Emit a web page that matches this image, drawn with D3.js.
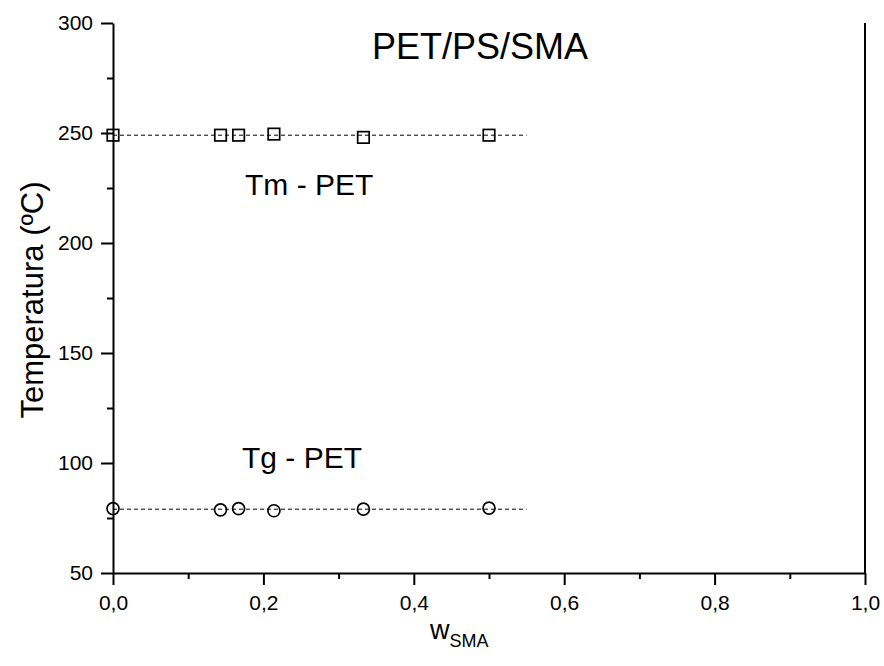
<!DOCTYPE html>
<html>
<head>
<meta charset="utf-8">
<script src="https://cdn.jsdelivr.net/npm/d3@7"></script>
<style>
  html, body { margin: 0; padding: 0; background: #fff; }
  svg { display: block; font-family: "Liberation Sans", Arial, Helvetica, sans-serif; }
</style>
</head>
<body>
<svg id="chart" width="884" height="666"></svg>
<script>
// Weight fraction of SMA in the PET/PS/SMA blends
const wSMA = [0.0, 0.143, 0.167, 0.214, 0.333, 0.5];
// Melting temperature of the PET phase (°C)
const tmPET = [249, 249, 249, 249.5, 248, 249];
// Glass transition temperature of the PET phase (°C)
const tgPET = [79.3, 78.7, 79.3, 78.3, 79, 79.5];
// Reference levels drawn as dashed guides
const guideX = [0, 0.55];
const tmGuide = 249;
const tgGuide = 79;
// Axis ticks
const xTicks = [0, 0.2, 0.4, 0.6, 0.8, 1.0];
const xMinor = [0.1, 0.3, 0.5, 0.7, 0.9];
const yTicks = [50, 100, 150, 200, 250, 300];
const yMinor = [75, 125, 175, 225, 275];

const svg = d3.select("#chart");
const plotL = 113, plotR = 865, plotT = 23, plotB = 573;

const x = d3.scaleLinear().domain([0, 1]).range([plotL, plotR]);
const y = d3.scaleLinear().domain([50, 300]).range([plotB, plotT]);

const fmt = d => d3.format(".1f")(d).replace(".", ",");

// Bottom axis: major and minor ticks pointing outward
svg.append("g").attr("transform", `translate(0,${plotB})`)
  .call(d3.axisBottom(x).tickValues(xTicks).tickFormat(fmt).tickSize(12).tickSizeOuter(0).tickPadding(10));
svg.append("g").attr("transform", `translate(0,${plotB})`)
  .call(d3.axisBottom(x).tickValues(xMinor).tickFormat("").tickSize(6).tickSizeOuter(0))
  .select(".domain").remove();

// Left axis
svg.append("g").attr("transform", `translate(${plotL},0)`)
  .call(d3.axisLeft(y).tickValues(yTicks).tickSize(12).tickSizeOuter(0).tickPadding(8));
svg.append("g").attr("transform", `translate(${plotL},0)`)
  .call(d3.axisLeft(y).tickValues(yMinor).tickFormat("").tickSize(6).tickSizeOuter(0))
  .select(".domain").remove();

svg.selectAll(".domain").attr("stroke", "#000").attr("stroke-width", 2);
svg.selectAll(".tick line").attr("stroke", "#000").attr("stroke-width", 2);
svg.selectAll(".tick text").attr("fill", "#000").style("font-size", "21px");

// Right frame edge
svg.append("line")
  .attr("x1", x(1)).attr("x2", x(1)).attr("y1", y(300)).attr("y2", y(50))
  .attr("stroke", "#000").attr("stroke-width", 2);

// Dashed guides
[tmGuide, tgGuide].forEach(v => {
  svg.append("line")
    .attr("x1", x(guideX[0])).attr("x2", x(guideX[1]))
    .attr("y1", y(v)).attr("y2", y(v))
    .attr("stroke", "#000").attr("stroke-width", 1)
    .attr("stroke-dasharray", "4,3");
});

// Tm markers (open squares)
const sq = 11.5;
svg.append("g").selectAll("rect").data(wSMA).join("rect")
  .attr("x", (d) => x(d) - sq / 2)
  .attr("y", (d, i) => y(tmPET[i]) - sq / 2)
  .attr("width", sq).attr("height", sq)
  .attr("fill", "none").attr("stroke", "#000").attr("stroke-width", 1.7);

// Tg markers (open circles)
svg.append("g").selectAll("circle").data(wSMA).join("circle")
  .attr("cx", d => x(d))
  .attr("cy", (d, i) => y(tgPET[i]))
  .attr("r", 6)
  .attr("fill", "none").attr("stroke", "#000").attr("stroke-width", 1.7);

// Labels
svg.append("text").attr("x", 480).attr("y", 59).attr("text-anchor", "middle")
  .style("font-size", "36px").text("PET/PS/SMA");
svg.append("text").attr("x", 245).attr("y", 195)
  .style("font-size", "30px").text("Tm - PET");
svg.append("text").attr("x", 242).attr("y", 468)
  .style("font-size", "30px").text("Tg - PET");

// Axis titles
svg.append("text")
  .attr("transform", `translate(43,300) rotate(-90)`)
  .attr("text-anchor", "middle")
  .style("font-size", "31px").text("Temperatura (ºC)");

const xt = svg.append("text").attr("x", 430).attr("y", 639);
xt.append("tspan").style("font-size", "27px").text("w");
xt.append("tspan").style("font-size", "18px").attr("dy", 8).text("SMA");
</script>
</body>
</html>
